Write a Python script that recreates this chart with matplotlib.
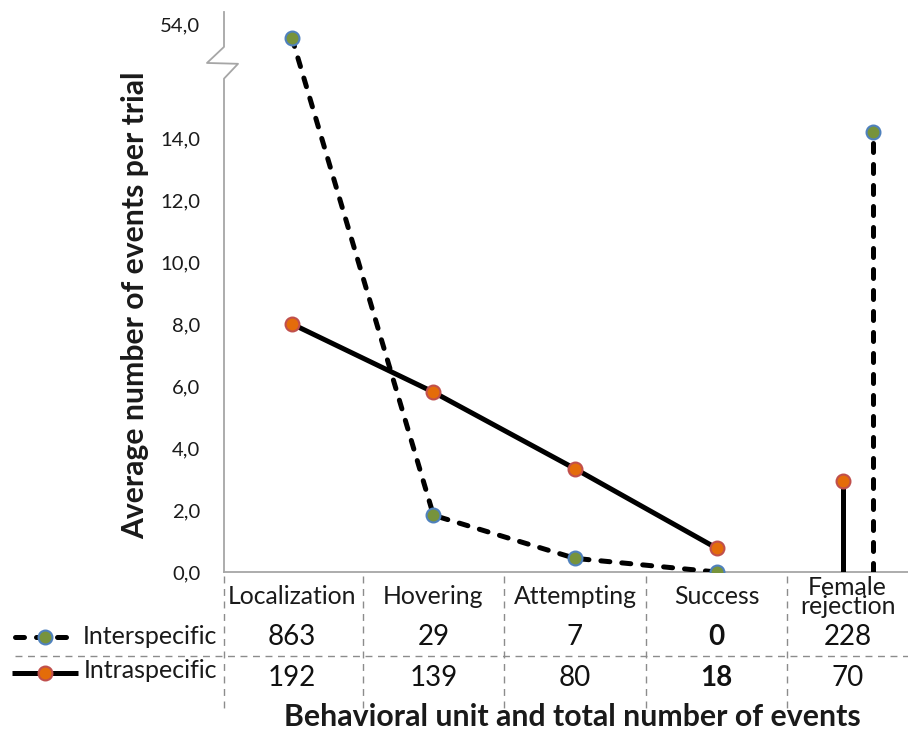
import numpy as np
import matplotlib.pyplot as plt
from matplotlib.transforms import blended_transform_factory, ScaledTranslation
from matplotlib.lines import Line2D

plt.rcParams['font.family'] = ['Lato', 'DejaVu Sans']

# data
categories = ["Localization", "Hovering", "Attempting", "Success", "Female\nrejection"]
inter_mean = [53.9, 1.83, 0.44, 0.0, 14.2]
intra_mean = [8.0, 5.8, 3.33, 0.77, 2.95]
inter_total = ["863", "29", "7", "0", "228"]
intra_total = ["192", "139", "80", "18", "70"]
bold_col = 3
y_ticks = [0, 2, 4, 6, 8, 10, 12, 14]
top_tick = 54.0

W, H = 908, 737
def fx(px):
    return px / W
def fy(py):
    return 1 - py / H

# broken y axis: linear up to 15, compressed above
k = 0.0573
def fwd(v):
    v = np.asarray(v, dtype=float)
    return np.where(v <= 15, v, 15 + (v - 15) * k)
def inv(s):
    s = np.asarray(s, dtype=float)
    return np.where(s <= 15, s, 15 + (s - 15) / k)

fig = plt.figure(figsize=(W / 100, H / 100), dpi=100)
ax = fig.add_axes([fx(224), fy(572), fx(908) - fx(224), (572 - 12) / H])
ax.set_yscale('function', functions=(fwd, inv))
ax.set_ylim(0, 68.4)
ax.set_xlim(-0.48, 4.353)

x = np.arange(len(categories))
fem_off = 0.106
dash = (0, (1.8, 2.4))
inter_kw = dict(color='black', lw=3.6, ls=dash, dash_capstyle='round')
intra_kw = dict(color='black', lw=3.6, solid_capstyle='butt')
inter_mk = dict(marker='o', ms=10, mfc='#77933C', mec='#4F81BD', mew=1.5)
intra_mk = dict(marker='o', ms=10, mfc='#E46C0A', mec='#C0504D', mew=1.5)

# connected behaviours
ax.plot(x[:4], intra_mean[:4], **intra_kw, zorder=3)
ax.plot(x[:4], inter_mean[:4], **inter_kw, zorder=3)
ax.plot(x[:4], intra_mean[:4], ls='none', **intra_mk, zorder=5)
ax.plot(x[:4], inter_mean[:4], ls='none', **inter_mk, zorder=5)
# female rejection stems
xi = x[4] - fem_off
xe = x[4] + fem_off
ax.plot([xi, xi], [0, intra_mean[4]], **intra_kw, zorder=3)
ax.plot([xe, xe], [0, inter_mean[4]], **inter_kw, zorder=3)
ax.plot(xi, intra_mean[4], ls='none', **intra_mk, zorder=5)
ax.plot(xe, inter_mean[4], ls='none', **inter_mk, zorder=5)

# axes styling
axis_col = '#A6A6A6'
for s in ['top', 'right', 'left']:
    ax.spines[s].set_visible(False)
ax.spines['bottom'].set_color(axis_col)
ax.spines['bottom'].set_linewidth(1.3)
ax.set_xticks([])
ax.set_yticks(y_ticks + [top_tick])
ax.set_yticklabels([f"{t:.1f}".replace('.', ',') for t in y_ticks + [top_tick]])
ax.tick_params(axis='y', length=0, pad=17, labelsize=14.6, labelcolor='#1a1a1a')
lab = ax.get_yticklabels()[-1]
lab.set_transform(lab.get_transform() + ScaledTranslation(0, 13 / 100, fig.dpi_scale_trans))

# left axis with break zigzag
ax.plot([0, 0, 0.0205, -0.0249, 0, 0], [0, 0.881, 0.9075, 0.909, 0.9377, 1],
        transform=ax.transAxes, color=axis_col, lw=1.3, clip_on=False)

# data table below the axis
tr = blended_transform_factory(ax.transData, fig.transFigure)
grid_kw = dict(color='#8C8C8C', lw=1, ls=(0, (5, 4)), clip_on=False)
for b in [-0.48] + [i + 0.5 for i in range(4)]:
    ax.add_line(Line2D([b, b], [fy(576), fy(708)], transform=tr, **grid_kw))
fig.add_artist(Line2D([fx(15), fx(908)], [fy(656), fy(656)], transform=fig.transFigure, **grid_kw))

col_x = list(x[:4]) + [(3.5 + 4.353) / 2]
for i, c in enumerate(categories):
    ax.text(col_x[i], fy(597), c, transform=tr, ha='center', va='center',
            fontsize=17.8, linespacing=0.8, color='#1a1a1a')
    w = 'bold' if i == bold_col else 'normal'
    ax.text(col_x[i], fy(637), inter_total[i], transform=tr, ha='center', va='center',
            fontsize=20, fontweight=w, color='#111111')
    ax.text(col_x[i], fy(678), intra_total[i], transform=tr, ha='center', va='center',
            fontsize=20, fontweight=w, color='#111111')

# legend keys inside the table
fig.add_artist(Line2D([fx(15), fx(71)], [fy(637), fy(637)], transform=fig.transFigure, **inter_kw))
fig.add_artist(Line2D([fx(45)], [fy(637)], transform=fig.transFigure, ls='none', **inter_mk))
fig.add_artist(Line2D([fx(12), fx(78)], [fy(673), fy(673)], transform=fig.transFigure, **intra_kw))
fig.add_artist(Line2D([fx(45)], [fy(673)], transform=fig.transFigure, ls='none', **intra_mk))
fig.text(fx(217), fy(636), "Interspecific", ha='right', va='center', fontsize=18, color='#1a1a1a')
fig.text(fx(217), fy(671), "Intraspecific", ha='right', va='center', fontsize=18, color='#1a1a1a')

fig.text(fx(135), fy(305), "Average number of events per trial", rotation=90,
         ha='center', va='center', fontsize=21.7, fontweight='bold', color='#1a1a1a')
fig.text(fx(572), fy(717), "Behavioral unit and total number of events",
         ha='center', va='center', fontsize=21.8, fontweight='bold', color='#1a1a1a')

fig.savefig('out.png', dpi=100)
